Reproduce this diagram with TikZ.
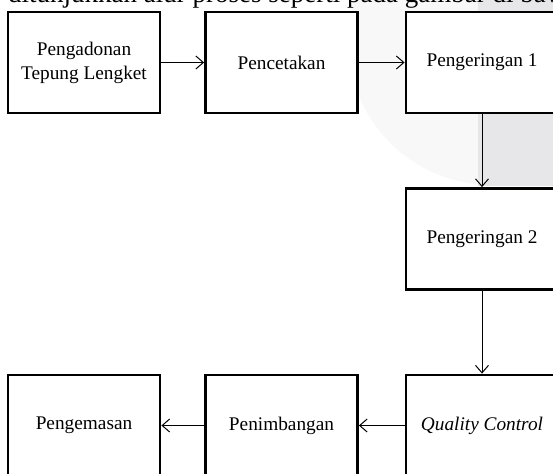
\documentclass[tikz,border=0pt]{standalone}
\usepackage{fontspec}
\setmainfont{Liberation Serif}
\usetikzlibrary{arrows.meta}
\definecolor{wmlight}{HTML}{F8F8F8}
\definecolor{wmdark}{HTML}{E7E7EA}
\begin{document}
\begin{tikzpicture}[x=1pt,y=-1pt,
  procbox/.style={draw=black, line width=2.8pt, fill=white, minimum width=152pt, minimum height=101pt, inner sep=0pt, align=center, font=\fontsize{19.3}{24}\selectfont},
  flow/.style={line width=1pt, -{Straight Barb[length=7.5pt,width=13pt,line width=1pt]}}]
\useasboundingbox (0,0) rectangle (553,473);
% watermark
\fill[wmlight] (492,41) circle (144);
\fill[wmdark] (478,0) rectangle (553,186);
% cut-off line of body text
\node[anchor=base west, inner sep=0pt, font=\fontsize{27}{30}\selectfont] (toptext) at (8,2.5) {ditunjukkan alur proses seperti pada gambar di bawah ini};
% process boxes
\node[procbox] (b1) at (84,62.5) {Pengadonan\\Tepung Lengket};
\node[procbox] (b2) at (281.5,62.5) {Pencetakan};
\node[procbox] (b3) at (482,62.5) {Pengeringan 1};
\node[procbox] (b4) at (482,239) {Pengeringan 2};
\node[procbox] (b5) at (482,425.5) {\textit{Quality Control}};
\node[procbox] (b6) at (281.5,425.5) {Penimbangan};
\node[procbox] (b7) at (84,425.5) {Pengemasan};
% connectors
\draw[flow] (b1) -- (b2);
\draw[flow] (b2) -- (b3);
\draw[flow] (b3) -- (b4);
\draw[flow] (b4) -- (b5);
\draw[flow] (b5) -- (b6);
\draw[flow] (b6) -- (b7);
\end{tikzpicture}
\end{document}
